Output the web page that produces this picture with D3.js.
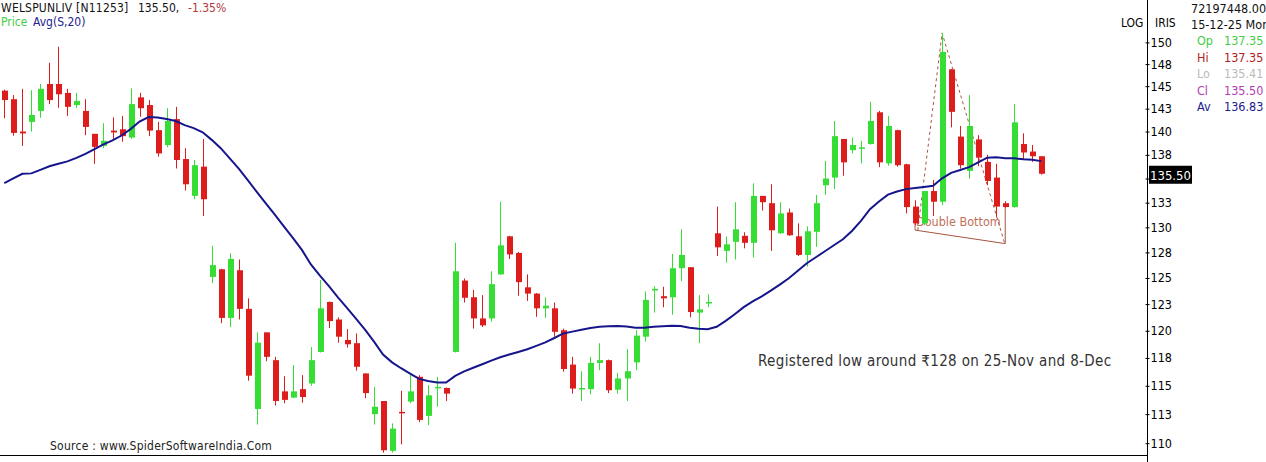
<!DOCTYPE html>
<html>
<head>
<meta charset="utf-8">
<script src="https://cdn.jsdelivr.net/npm/d3@7"></script>
<style>
  body { margin: 0; background: #fff; }
  svg { display: block; }
  text { font-family: 'DejaVu Sans Condensed', 'DejaVu Sans', sans-serif; font-stretch: condensed; }
</style>
</head>
<body>
<svg id="chart"></svg>
<script>
const width = 1266;
const height = 462;

// daily candles, oldest first (last one = 15-12-25)
const open = [144.5,143.55,140.0,141.05,142.25,145.25,145.25,144.25,142.9,142.25,
  139.75,138.45,140.1,140.25,139.35,143.75,142.9,140.15,138.55,141.35,
  137.05,133.2,136.25,125.1,125.85,121.2,125.75,122.05,112.95,119.85,
  117.3,114.5,113.95,114.7,115.2,118.05,122.7,121.05,119.15,118.85,
  116.1,112.5,113.65,109.35,112.7,113.6,115.8,112.35,114.8,114.8,
  118.05,124.75,123.15,121.15,121.15,125.35,129.1,127.45,124.1,123.5,
  122.1,122.1,120.05,116.9,114.7,114.7,117.05,117.3,114.65,115.65,
  117.1,119.45,123.8,123.25,123.15,125.95,126.05,121.7,122.65,129.4,
  127.65,128.55,129.15,128.45,133.2,132.45,129.4,131.5,129.1,127.25,
  129.55,134.3,135.1,139.2,138.0,138.2,138.65,142.1,136.6,140.15,
  136.5,132.1,130.4,133.7,132.6,146.9,139.45,135.8,139.15,136.75,
  135.1,132.45,132.05,138.65,137.85,137.35];
const high = [144.6,144.0,144.7,144.55,145.25,147.65,149.5,144.7,144.25,143.55,
  139.75,140.9,141.55,141.7,144.75,144.25,143.45,141.05,142.55,142.7,
  138.2,136.95,139.2,128.15,125.9,127.4,126.8,123.05,119.85,119.85,
  117.6,115.85,116.85,115.95,118.5,124.8,122.75,121.25,120.15,119.75,
  116.1,114.9,113.65,111.7,114.55,115.95,115.95,115.05,115.8,114.85,
  128.45,124.95,123.85,123.35,125.65,132.6,129.15,127.55,125.35,123.55,
  123.15,122.65,120.2,117.6,116.3,117.6,118.85,117.35,116.15,118.3,
  120.05,123.7,124.2,124.15,127.35,129.8,126.05,123.35,123.45,132.1,
  129.1,132.55,129.5,134.5,133.2,134.4,132.55,131.9,130.4,130.1,
  133.3,136.85,141.15,139.2,139.35,139.0,143.25,142.25,141.7,140.2,
  136.55,132.75,133.7,134.85,151.1,146.95,140.6,144.0,139.6,137.5,
  136.55,132.65,143.0,139.8,138.55,137.35];
const low = [141.45,139.55,138.45,140.0,141.5,143.0,142.6,141.7,142.6,139.6,
  136.55,138.2,139.1,138.9,139.2,141.6,139.5,137.3,138.3,136.05,
  133.75,132.85,131.15,124.5,120.7,120.35,121.05,115.45,111.6,117.2,
  113.25,113.45,113.9,113.5,115.0,118.0,120.25,118.9,118.45,116.35,
  113.9,111.6,109.2,109.2,109.9,113.45,111.8,111.55,113.15,113.65,
  118.0,122.65,120.2,120.35,120.85,125.3,126.85,123.3,122.8,121.3,
  121.2,119.45,116.25,114.3,113.65,114.25,116.4,114.35,114.3,113.65,
  116.4,119.0,121.7,122.2,121.5,124.7,121.25,118.85,122.2,127.15,
  126.5,126.8,127.9,127.0,131.7,127.65,129.35,129.15,127.15,126.1,
  128.05,133.3,133.9,135.3,137.65,136.6,138.6,136.2,136.35,136.25,
  131.4,130.2,130.2,131.15,132.25,140.45,136.05,135.0,136.3,134.3,
  131.05,132.0,132.0,136.95,136.75,135.41];
const close = [143.45,139.85,139.8,141.8,144.7,143.45,144.1,142.7,143.35,140.5,
  138.35,139.0,139.9,139.5,143.0,142.55,140.1,137.65,141.15,136.95,
  134.4,136.4,132.85,126.25,121.2,126.85,122.05,115.9,118.9,117.6,
  113.65,113.75,114.5,114.0,117.3,122.1,120.9,119.45,118.75,116.7,
  114.35,113.15,109.4,111.25,112.6,114.5,112.0,114.15,114.9,114.3,
  125.65,123.1,121.15,120.5,124.4,128.2,127.3,124.6,123.5,122.1,
  122.35,119.9,116.5,114.75,114.8,117.05,117.3,114.6,115.65,116.3,
  119.55,122.9,123.95,123.05,125.95,127.25,121.75,122.0,122.7,128.0,
  128.3,129.8,128.45,133.2,132.55,129.7,131.4,129.2,127.25,129.6,
  132.45,135.0,139.5,136.7,138.55,138.3,141.15,136.7,140.6,136.4,
  132.05,130.4,133.7,132.6,148.9,142.15,136.4,140.6,137.2,134.75,
  132.1,132.05,141.0,137.75,137.35,135.5];
// 20 day simple average
const avg20 = [134.53,135.01,135.49,135.54,135.91,136.29,136.55,136.80,137.18,137.61,
  138.12,138.61,139.04,139.57,140.26,141.08,141.57,141.54,141.37,141.14,
  140.69,140.37,139.92,139.10,138.21,137.13,136.05,134.83,133.61,132.43,
  131.27,130.09,128.95,127.75,126.32,125.22,124.21,123.13,122.14,121.14,
  120.10,119.00,117.81,117.10,116.57,116.08,115.61,115.43,115.30,115.29,
  115.88,116.28,116.61,116.93,117.26,117.56,117.81,118.05,118.30,118.60,
  118.92,119.33,119.75,119.92,120.09,120.26,120.38,120.42,120.45,120.40,
  120.28,120.27,120.37,120.43,120.46,120.45,120.28,120.18,120.14,120.37,
  120.92,121.54,122.21,122.75,123.24,123.78,124.36,124.97,125.70,126.44,
  127.02,127.61,128.21,128.80,129.63,130.65,131.84,132.62,133.33,133.65,
  133.90,134.02,134.13,134.25,135.02,135.59,135.89,136.20,136.69,137.20,
  137.25,137.13,137.13,137.03,136.97,136.83];

const yTicks = [150,147.5,145,142.5,140,137.5,135,132.5,130,127.5,125,122.5,120,117.5,115,112.5,110];
const yTickLabels = ['150','148','145','143','140','138','135','133','130','128','125','123','120','118','115','113','110'];

const symbol = 'WELSPUNLIV [N11253]';
const volume = 72197448;
const lastDate = '15-12-25 Mon';
const note = 'Registered low around \u20B9128 on 25-Nov and 8-Dec';
const source = 'Source : www.SpiderSoftwareIndia.Com';

// double bottom drawing: [candle index, price]
const dbSolid = [[101, 130.93], [101, 129.72], [111, 128.37], [111, 132.26]];
const dbDashed = [[101.3, 129.72], [104, 151.1], [110.9, 128.5]];

const RED = '#dd1c1c', GREEN = '#35dd35', NAVY = '#16168c', BROWN = '#a8553f';
const plotRight = 1147;
const plotBottom = 455;

const svg = d3.select('#chart').attr('width', width).attr('height', height);
svg.append('rect').attr('width', width).attr('height', height).attr('fill', '#fff');

const x = d3.scaleLinear().domain([0, close.length - 1]).range([4.3, 1041.3]);
const y = d3.scaleLog().domain([109, 155]).range([plotBottom, 0]);

const candles = close.map((c, i) => ({i, o: open[i], h: high[i], l: low[i], c}));

// annotation (under the candles)
const ann = svg.append('g');
const lineXY = d3.line().x(d => x(d[0])).y(d => y(d[1]));
ann.append('path').datum(dbSolid).attr('d', lineXY)
    .attr('fill', 'none').attr('stroke', BROWN).attr('stroke-width', 1);
ann.append('path').datum(dbDashed).attr('d', lineXY)
    .attr('fill', 'none').attr('stroke', BROWN).attr('stroke-width', 1)
    .attr('stroke-dasharray', '3,3');
ann.append('text').attr('x', x(101) + 1).attr('y', y(130.1))
    .attr('font-size', 12.5).attr('fill', '#c07058').text('Double Bottom');

// candles
const cg = svg.append('g');
cg.selectAll('line.wick').data(candles).enter().append('line')
    .attr('class', 'wick')
    .attr('x1', d => Math.round(x(d.i)) + 0.5)
    .attr('x2', d => Math.round(x(d.i)) + 0.5)
    .attr('y1', d => y(d.h))
    .attr('y2', d => y(d.l))
    .attr('stroke', d => d.c >= d.o ? GREEN : RED)
    .attr('stroke-width', 1);
cg.selectAll('rect.body').data(candles).enter().append('rect')
    .attr('class', 'body')
    .attr('x', d => Math.round(x(d.i)) - 2)
    .attr('width', 6)
    .attr('y', d => y(Math.max(d.o, d.c)))
    .attr('height', d => Math.max(1.5, y(Math.min(d.o, d.c)) - y(Math.max(d.o, d.c))))
    .attr('fill', d => d.c >= d.o ? GREEN : RED);

// moving average
svg.append('path').datum(avg20)
    .attr('d', d3.line().x((d, i) => x(i)).y(d => y(d)))
    .attr('fill', 'none').attr('stroke', NAVY).attr('stroke-width', 2);

// frame
svg.append('line').attr('x1', plotRight + 0.5).attr('x2', plotRight + 0.5)
    .attr('y1', 0).attr('y2', height).attr('stroke', '#000');
svg.append('line').attr('x1', 0).attr('x2', plotRight)
    .attr('y1', plotBottom + 0.5).attr('y2', plotBottom + 0.5).attr('stroke', '#000');

const last = close.length - 1;
const tagY = y(close[last]);

// price axis (the label under the price tag is covered, as on the original)
const yAxis = d3.axisRight(y).tickValues(yTicks)
    .tickFormat((d, i) => Math.abs(y(d) - tagY) < 10 ? '' : yTickLabels[i])
    .tickSize(3).tickPadding(0);
const gy = svg.append('g').attr('transform', `translate(${plotRight + 0.5},0)`).call(yAxis);
gy.select('.domain').remove();
gy.selectAll('.tick line').attr('x1', -2).attr('x2', 2).attr('stroke', '#000');
gy.selectAll('.tick text').attr('x', 3).attr('font-size', 12.5)
    .attr('font-family', null).attr('fill', '#000');

svg.append('rect').attr('x', 1149).attr('y', tagY - 8).attr('width', 43).attr('height', 18).attr('fill', '#000');
svg.append('text').attr('x', 1150).attr('y', tagY + 6).attr('font-size', 13)
    .attr('fill', '#fff').text(close[last].toFixed(2));

svg.append('text').attr('x', 1121).attr('y', 27).attr('font-size', 12).text('LOG');
svg.append('text').attr('x', 1155).attr('y', 27).attr('font-size', 12).text('IRIS');

// header
const chg = (close[last] / close[last - 1] - 1) * 100;
svg.append('text').attr('x', 1).attr('y', 12).attr('font-size', 12).attr('fill', '#111')
    .attr('letter-spacing', 0.2).text(symbol);
svg.append('text').attr('x', 138).attr('y', 12).attr('font-size', 12).attr('fill', '#111')
    .text(close[last].toFixed(2) + ',');
svg.append('text').attr('x', 188).attr('y', 12).attr('font-size', 12).attr('fill', '#b03a3a')
    .text(chg.toFixed(2) + '%');
svg.append('text').attr('x', 1).attr('y', 26).attr('font-size', 12).attr('fill', '#44cc44').text('Price');
svg.append('text').attr('x', 33).attr('y', 26).attr('font-size', 12).attr('fill', '#22228c').text('Avg(S,20)');

// info panel (clipped by the window edge like the original)
svg.append('text').attr('x', 1191).attr('y', 13).attr('font-size', 12.5).attr('fill', '#111').text(volume.toFixed(2));
svg.append('text').attr('x', 1191).attr('y', 29).attr('font-size', 12.5).attr('fill', '#111').text(lastDate);
const info = [
  ['Op', open[last], '#44cc44'],
  ['Hi', high[last], '#b22222'],
  ['Lo', low[last], '#bbbbbb'],
  ['Cl', close[last], '#b040b0'],
  ['Av', avg20[last], '#1c1c8c']
];
info.forEach((r, k) => {
  const by = 45 + k * 16.6;
  svg.append('text').attr('x', 1197).attr('y', by).attr('font-size', 12.5).attr('fill', r[2]).text(r[0]);
  svg.append('text').attr('x', 1224).attr('y', by).attr('font-size', 12.5).attr('fill', r[2]).text(r[1].toFixed(2));
});

// notes
svg.append('text').attr('x', 758).attr('y', 366).attr('font-size', 15).attr('fill', '#333')
    .attr('letter-spacing', 0.36).text(note);
svg.append('text').attr('x', 50).attr('y', 450).attr('font-size', 12).attr('fill', '#222')
    .attr('letter-spacing', 0.25).text(source);
</script>
</body>
</html>
